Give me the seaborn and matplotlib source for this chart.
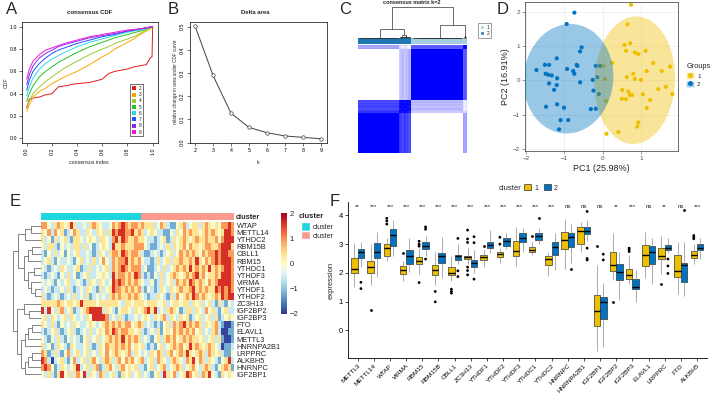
import numpy as np
import pandas as pd
import matplotlib
matplotlib.use('Agg')
import matplotlib.pyplot as plt
import seaborn as sns
from matplotlib.patches import Ellipse, Patch
from matplotlib.lines import Line2D
from matplotlib.colors import LinearSegmentedColormap, ListedColormap

# ---------------- data ----------------
# A: consensus CDF curves (k = 2..9)
cdf_k = [2, 3, 4, 5, 6, 7, 8, 9]
cdf_x = [0.0, 0.02, 0.05, 0.1, 0.15, 0.2, 0.25, 0.3, 0.4, 0.5, 0.6, 0.65, 0.7, 0.8, 0.85, 0.9, 0.95, 0.98, 0.995, 1.0]
cdf_y2 = [0.27, 0.35, 0.36, 0.37, 0.39, 0.40, 0.46, 0.47, 0.49, 0.50, 0.53, 0.58, 0.60, 0.62, 0.64, 0.65, 0.66, 0.72, 0.73, 1.0]
cdf_y3 = [0.24, 0.30, 0.37, 0.42, 0.45, 0.49, 0.52, 0.55, 0.60, 0.66, 0.73, 0.76, 0.80, 0.86, 0.89, 0.93, 0.96, 0.98, 0.995, 1.0]
cdf_y4 = [0.29, 0.33, 0.40, 0.46, 0.51, 0.55, 0.59, 0.63, 0.69, 0.75, 0.80, 0.82, 0.85, 0.89, 0.91, 0.94, 0.97, 0.99, 0.997, 1.0]
cdf_y5 = [0.33, 0.40, 0.47, 0.55, 0.60, 0.64, 0.68, 0.71, 0.77, 0.82, 0.86, 0.88, 0.90, 0.93, 0.945, 0.96, 0.98, 0.99, 0.998, 1.0]
cdf_y6 = [0.38, 0.46, 0.54, 0.62, 0.67, 0.71, 0.74, 0.77, 0.82, 0.86, 0.89, 0.905, 0.92, 0.95, 0.96, 0.97, 0.985, 0.995, 0.999, 1.0]
cdf_y7 = [0.43, 0.52, 0.60, 0.67, 0.72, 0.76, 0.79, 0.81, 0.85, 0.88, 0.91, 0.92, 0.93, 0.96, 0.97, 0.98, 0.99, 0.996, 0.999, 1.0]
cdf_y8 = [0.48, 0.57, 0.65, 0.72, 0.76, 0.79, 0.82, 0.84, 0.87, 0.90, 0.92, 0.93, 0.94, 0.96, 0.97, 0.98, 0.99, 0.997, 0.999, 1.0]
cdf_y9 = [0.53, 0.62, 0.69, 0.75, 0.79, 0.81, 0.83, 0.85, 0.88, 0.91, 0.93, 0.94, 0.95, 0.97, 0.975, 0.98, 0.99, 0.997, 0.999, 1.0]
cdf_colors = ['#E41A1C', '#FFA500', '#9ACD32', '#22C322', '#2ED8E0', '#1E50FF', '#8A2BE2', '#F012D8']

# B: delta area
delta_k = [2, 3, 4, 5, 6, 7, 8, 9]
delta_area = [0.503, 0.29, 0.127, 0.066, 0.043, 0.029, 0.023, 0.017]

# C: consensus matrix k=2 (column order: cluster 2 then cluster 1), per-sample stability
c_labels = [2] * 30 + [2] * 9 + [1] * 38 + [1] * 3
c_stability = [1.0] * 30 + [0.80, 0.76, 0.70, 0.74, 0.78, 0.72, 0.75, 0.68, 0.73] + [1.0] * 38 + [0.62, 0.66, 0.60]

# D: PCA points
pc1_g1 = [0.74, 0.65, 0.57, 0.72, 0.61, 0.84, 0.93, 1.12, 1.32, 1.15, 1.54, 1.76, 0.80, 0.84, 0.63, 1.00, 0.51, 0.67,
          0.71, 0.77, 0.61, 0.50, 1.05, 1.24, 1.45, 1.65, 1.82, 1.15, 0.93, 0.90, 0.41, 0.10, 0.25, 0.02, 0.06, 0.09]
pc2_g1 = [2.20, 1.63, 1.03, 1.08, 0.86, 0.81, 0.76, 0.86, 0.50, 0.27, 0.27, 0.40, 0.19, 0.04, 0.09, 0.01, -0.28, -0.33,
          -0.43, -0.43, -0.55, -0.54, -0.41, -0.57, -0.26, -0.19, -0.40, -0.81, -1.23, -1.35, -1.51, -1.56, 0.51, 0.42, 0.04, -0.60]
pc1_g2 = [-0.74, -0.94, -0.55, -0.59, -1.20, -0.68, -0.66, -1.73, -1.51, -1.40, -0.93, -0.77, -0.74, -1.49, -1.42, -1.33,
          -1.19, -0.59, -1.40, -1.20, -1.27, -1.48, -1.19, -1.01, -1.10, -0.90, -1.14, -0.18, -0.07, -0.26, -0.14, -0.24,
          -0.10, -0.31, -0.18]
pc2_g2 = [1.97, 1.64, 0.96, 0.84, 0.64, 0.45, 0.42, 0.30, 0.45, 0.45, 0.33, 0.27, 0.19, 0.19, 0.16, 0.14, 0.06, -0.06,
          -0.09, -0.14, -0.28, -0.77, -0.70, -0.80, -1.16, -1.16, -1.43, 0.42, 0.42, 0.01, 0.09, -0.30, -0.40, -0.84, -0.83]
group_colors = ['#EFC000', '#0073C2']

# E: heatmap of 22 genes (row order of the dendrogram), 31 + 29 samples
genes_e = ['WTAP', 'METTL14', 'YTHDC2', 'RBM15B', 'CBLL1', 'RBM15', 'YTHDC1', 'YTHDF3', 'VIRMA', 'YTHDF1', 'YTHDF2',
           'ZC3H13', 'IGF2BP2', 'IGF2BP3', 'FTO', 'ELAVL1', 'METTL3', 'HNRNPA2B1', 'LRPPRC', 'ALKBH5', 'HNRNPC', 'IGF2BP1']
e_left = [
    'o o w l y o y w y r y l l w l y o y w l l w o y o r o y o o y',
    'y w o l o w y b l w o y l l y w l y w y l y r o r r o o r y o',
    'y l w b y l w y l b y y w l w y w l y y w l o r y r o y y o y',
    'w l y y l b w l w l y y l y l w b l w y w l r y y o y y y o o',
    'l b w l y l w b w l w y l l w l b l y w l y o o y r o y o o y',
    'l w y l b w l l w l b w y l w l y l w o w l o y o o r y o y o',
    'w l b l w l y w l l w y b l l y l w l w y l o y o r o y o o o',
    'l b l w l b w l y l w b l w y l l w w y w l r y o o y o y r o',
    'w l w l b w l w y l l w l b l y w l y w l w r o r o y o y o y',
    'l w l b l l w l y l b l w l y w l b y l w y r o o y o y o y o',
    'y l b l w l b l w l y l w l y b l w l w l y o y o y y o y o y',
    'y y y y y o y w y y w y r y y y y w y y y y y y w l y y w y y',
    'r l r w l y o l w y b l w y o r r r r l y w l b w y y w l y w',
    'w y l y w l w y l y w l w l y w r r r r o l w l y l b l l w l',
    'y w l y l b w l w l y w l l w y w l w y o y o y o y o o w y o',
    'l b l w y l b l w y l b l w l y l w y w o y r o y o o y y w y',
    'w l b w l y l b w l w l b w y l w y l w y o y o y r y o y o y',
    'y l w b l y w l b y w l l w y l b l y w o y y o y o y o w y w',
    'o y b l y l b w o l w y l w y l w l y w o w y o y w y o l y w',
    'r o l B l w y l b w o l w y l y o w l y o y l y o w o y o w y',
    'o r o w b l y w l w y r l w y l y o b l y o w l y o w y w y l',
    'w l y l b y r w y l y o w r l y w l o y l w y l b y w y l w y',
]
e_right = [
    'o y y y l w o y l b b w y o l w y y l y o y w y w o o r o',
    'y l w y w l l b b w l y w o y o y y w y o y o y w y r r o',
    'y w l l b l w y b l y w y o y w y o y y o y y o w o r r r',
    'o w l b b l w l y l y w y o w o y y w y o o y y o r r r y',
    'l b b l w l b l w y l w o y o y o y w o y o o r o r r o o',
    'w l l b l y l w y l y y o y y o y r y w o y o r o r r r o',
    'l w b b l w l y l w y o y o y r y o y o y r y o y o r r o',
    'l b l b w l y l w y o y w y o y o r y o w y y o y r r r o',
    'w l l w b l y l w y l o y o y r o y o y w o y o r r r r o',
    'l b w l b l y w l y w y o y y o r y o y o y y r o r o r o',
    'w l b l l y w l b y l o w y o y r o y o y w y o y r o r r',
    'y w y y y w w y l w y y w y y l y w y l w y l b y l b w l',
    'y o r y r l w l y o y w b l y y l y w l o w y l b w y l l',
    'w y w l y w y o l y w l y w y b l w y l w y l y b l w y w',
    'y l w l b l b w y l o y o r y o y o y l y w y o l b B B b',
    'l b l w l y b w y w o y o y o y o w y l w l y o l B B b b',
    'l w l b w y l y o y o w y o y o y y w y l w y l y b B B b',
    'y l b l b w y l w y o y o w y r y o y w y o y w l B b b l',
    'l w l y w o y l y o w y o y r y w y o y l o y w y l b b w',
    'o l w y l o y w l y o y w l o y r w o y l y w l b w y r l',
    'l b w y l w y o l w y o y l w y o w l y o y l b w y o y b',
    'l w l b w y l r y w o l w y r o w y l o y r w l b y w y w',
]
e_levels = {'B': -1.9, 'b': -1.2, 'l': -0.55, 'w': -0.1, 'y': 0.35, 'o': 0.9, 'r': 1.6}
e_cluster = [0] * 31 + [1] * 29
# row dendrogram merges (child a, child b, height); leaves are rows of genes_e
e_merges = [(0, 1, 0.35), (22, 2, 0.55), (3, 4, 0.30), (24, 5, 0.45), (6, 7, 0.25), (9, 10, 0.20), (8, 27, 0.35),
            (26, 28, 0.45), (25, 29, 0.58), (23, 30, 0.80), (12, 13, 0.40), (11, 32, 0.60), (14, 15, 0.30),
            (34, 16, 0.45), (35, 17, 0.55), (18, 19, 0.30), (37, 20, 0.45), (38, 21, 0.55), (36, 39, 0.70),
            (33, 40, 0.85), (31, 41, 1.00)]

# F: boxplots, five numbers [low whisker, q1, median, q3, high whisker] per cluster
genes_f = ['METTL3', 'METTL14', 'WTAP', 'VIRMA', 'RBM15', 'RBM15B', 'CBLL1', 'ZC3H13', 'YTHDF1', 'YTHDF2', 'YTHDF3',
           'YTHDC1', 'YTHDC2', 'HNRNPC', 'HNRNPA2B1', 'IGF2BP1', 'IGF2BP2', 'IGF2BP3', 'ELAVL1', 'LRPPRC', 'FTO', 'ALKBH5']
f_box1 = [[1.50, 2.00, 2.15, 2.52, 3.05], [1.58, 1.98, 2.20, 2.43, 3.00], [2.43, 2.58, 2.88, 3.00, 3.22],
          [1.70, 1.97, 2.10, 2.24, 2.43], [1.97, 2.30, 2.43, 2.55, 2.86], [1.58, 1.93, 2.10, 2.26, 2.72],
          [1.73, 1.93, 2.00, 2.22, 2.60], [2.30, 2.48, 2.55, 2.60, 2.85], [2.22, 2.45, 2.55, 2.62, 2.80],
          [2.36, 2.54, 2.65, 2.73, 2.86], [2.24, 2.57, 2.77, 3.11, 3.59], [2.62, 2.73, 2.80, 2.89, 3.09],
          [1.89, 2.26, 2.48, 2.59, 2.70], [2.12, 2.82, 3.15, 3.41, 3.87], [2.73, 3.00, 3.46, 3.61, 3.78],
          [-0.74, 0.14, 0.66, 1.23, 2.28], [1.76, 2.07, 2.27, 2.72, 3.38], [1.60, 1.79, 1.93, 2.13, 2.62],
          [1.81, 2.23, 2.63, 2.98, 3.42], [1.95, 2.49, 2.59, 2.88, 3.27], [1.27, 1.86, 2.05, 2.63, 3.09],
          [2.30, 2.50, 2.63, 2.77, 3.00]]
f_box2 = [[2.22, 2.51, 2.74, 2.84, 3.09], [1.84, 2.51, 2.72, 3.03, 3.44], [2.57, 2.94, 3.33, 3.52, 3.85],
          [2.04, 2.30, 2.57, 2.79, 3.20], [2.59, 2.83, 2.95, 3.09, 3.27], [1.81, 2.33, 2.60, 2.69, 3.24],
          [2.30, 2.45, 2.57, 2.63, 3.00], [1.98, 2.22, 2.33, 2.45, 2.80], [2.68, 2.85, 2.97, 3.07, 3.49],
          [2.82, 2.95, 3.11, 3.20, 3.40], [2.71, 3.07, 3.23, 3.38, 3.58], [3.00, 3.14, 3.29, 3.40, 3.55],
          [2.10, 2.62, 2.89, 3.09, 3.40], [2.36, 2.89, 3.26, 3.38, 3.69], [3.12, 3.34, 3.47, 3.59, 3.85],
          [-0.57, 0.40, 0.99, 1.15, 1.64], [1.06, 1.76, 2.02, 2.30, 2.72], [0.98, 1.43, 1.50, 1.78, 2.10],
          [1.60, 2.31, 2.72, 2.92, 3.23], [2.69, 2.79, 2.88, 2.98, 3.23], [1.20, 1.67, 2.28, 2.36, 3.06],
          [2.48, 2.78, 2.88, 3.00, 3.23]]
f_out1 = [[], [0.71], [3.90, 3.81, 3.70], [2.69], [3.10, 3.00, 2.93, 1.66], [1.35, 0.99], [1.43, 1.35, 1.29],
          [3.49, 3.18, 3.06, 2.20, 2.08, 1.93], [2.94], [3.24, 3.00], [], [3.29], [], [], [], [2.95], [1.00],
          [2.86, 2.80, 2.74], [], [1.60], [], [3.30, 3.24, 3.19]]
f_out2 = [[1.67, 1.45], [], [], [], [3.60, 3.52, 2.48], [], [3.20, 2.07, 1.87], [3.26, 3.05, 1.78], [], [], [],
          [3.90], [], [2.12], [4.14, 2.86, 2.50, 2.45], [2.65, 2.45], [], [], [], [2.48, 2.24, 1.98], [4.20], []]
f_sig = ['**', '***', '***', '***', '***', '***', '***', '***', '***', '***', '***', '***', '***', 'ns', 'ns', 'ns',
         '**', '***', 'ns', '**', 'ns', '***']

# ---------------- figure ----------------
W, H = 710, 395
sns.set_style('white')
plt.rcParams['font.family'] = ['Liberation Sans', 'DejaVu Sans']
plt.rcParams['axes.linewidth'] = 0.5
fig = plt.figure(figsize=(W / 100, H / 100), dpi=100)


def px_axes(x0, y0, x1, y1):
    return fig.add_axes([x0 / W, 1 - y1 / H, (x1 - x0) / W, (y1 - y0) / H])


def fig_text(x, y, s, **kw):
    kw.setdefault('ha', 'left')
    kw.setdefault('va', 'center')
    fig.text(x / W, 1 - y / H, s, **kw)


def draw_dendro(ax, merges, n, orient, color, lw):
    pos = {i: i + 0.5 for i in range(n)}
    hgt = {i: 0.0 for i in range(n)}
    for k, (a, b, h) in enumerate(merges):
        p = [pos[a], pos[a], pos[b], pos[b]]
        q = [hgt[a], h, h, hgt[b]]
        if orient == 'top':
            ax.plot(p, q, color=color, lw=lw, solid_capstyle='butt', clip_on=False)
        else:
            ax.plot(q, p, color=color, lw=lw, solid_capstyle='butt', clip_on=False)
        pos[n + k] = (pos[a] + pos[b]) / 2
        hgt[n + k] = h


def average_linkage(dist):
    # average linkage; ties are broken towards the smallest clusters (balanced tree)
    n = len(dist)
    size = np.ones(2 * n - 1)
    d = np.full((2 * n - 1, 2 * n - 1), np.inf)
    d[:n, :n] = dist
    np.fill_diagonal(d, np.inf)
    active = list(range(n))
    merges = []
    for step in range(n - 1):
        sz = size[active]
        key = d[np.ix_(active, active)] + 1e-6 * (sz[:, None] + sz[None, :])
        i, j = np.unravel_index(np.argmin(key), key.shape)
        a, b = active[i], active[j]
        if a > b:
            a, b = b, a
        new = n + step
        size[new] = size[a] + size[b]
        for c in active:
            if c not in (a, b):
                d[new, c] = d[c, new] = (size[a] * d[a, c] + size[b] * d[b, c]) / size[new]
        merges.append((a, b, d[a, b]))
        active = [c for c in active if c not in (a, b)] + [new]
    return merges


def cov_trob(pts, nu=5, iters=100):
    # robust (multivariate t) location and scatter, like MASS::cov.trob
    m = pts.mean(axis=0)
    S = np.cov(pts.T)
    for _ in range(iters):
        r = pts - m
        q = np.einsum('ij,jk,ik->i', r, np.linalg.inv(S), r)
        w = (nu + 2) / (nu + q)
        m = (w[:, None] * pts).sum(axis=0) / w.sum()
        r = pts - m
        S = (w[:, None] * r).T @ r / len(pts)
    return m, S


def base_r_axes(ax):
    for s in ax.spines.values():
        s.set_visible(True)
        s.set_color('black')
        s.set_linewidth(0.5)
    ax.tick_params(length=2, width=0.4, labelsize=3.8, pad=1.5, colors='black', direction='out')
    ax.tick_params(axis='both', which='both', bottom=True, left=True)


# ---- A: consensus CDF
axA = px_axes(21.7, 22.2, 157.7, 142.8)
cdf_all = [cdf_y2, cdf_y3, cdf_y4, cdf_y5, cdf_y6, cdf_y7, cdf_y8, cdf_y9]
cdf_df = pd.DataFrame({'x': np.tile(cdf_x, len(cdf_k)),
                       'y': np.concatenate(cdf_all),
                       'k': np.repeat([str(k) for k in cdf_k], len(cdf_x))})
sns.lineplot(data=cdf_df, x='x', y='y', hue='k', palette=cdf_colors, linewidth=0.7,
             estimator=None, sort=False, legend=False, ax=axA)
axA.set_xlim(-0.04, 1.04)
axA.set_ylim(-0.04, 1.04)
axA.set_xticks([0, 0.2, 0.4, 0.6, 0.8, 1.0])
axA.set_yticks([0, 0.2, 0.4, 0.6, 0.8, 1.0])
axA.set_xticklabels(['0.0', '0.2', '0.4', '0.6', '0.8', '1.0'], rotation=90)
axA.set_yticklabels(['0.0', '0.2', '0.4', '0.6', '0.8', '1.0'])
axA.set_xlabel('')
axA.set_ylabel('')
base_r_axes(axA)
axA.legend([Patch(facecolor=c, edgecolor='none') for c in cdf_colors], [str(k) for k in cdf_k],
           loc='upper left', bbox_to_anchor=(0.78, 0.505), fontsize=3.5, handlelength=0.8, handleheight=0.9,
           labelspacing=0.25, borderpad=0.35, handletextpad=0.6, frameon=True, fancybox=False,
           edgecolor='black', framealpha=1).get_frame().set_linewidth(0.4)
fig_text(90, 13, 'consensus CDF', ha='center', fontsize=4.3, fontweight='bold')
fig_text(89, 162, 'consensus index', ha='center', fontsize=3.8)
fig_text(6, 83, 'CDF', ha='center', fontsize=3.8, rotation=90)
fig_text(6, 9, 'A', fontsize=12)

# ---- B: delta area
axB = px_axes(190, 21.7, 326.7, 143.3)
sns.lineplot(x=delta_k, y=delta_area, color='#404040', linewidth=0.7, marker='o', markersize=2.5,
             markerfacecolor='white', markeredgecolor='#404040', markeredgewidth=0.5, ax=axB)
axB.set_xlim(1.72, 9.32)
axB.set_ylim(-0.0026, 0.5215)
axB.set_xticks(delta_k)
axB.set_yticks([0.0, 0.1, 0.2, 0.3, 0.4, 0.5])
axB.set_yticklabels(['0.0', '0.1', '0.2', '0.3', '0.4', '0.5'], rotation=90, va='center')
base_r_axes(axB)
fig_text(255, 13, 'Delta area', ha='center', fontsize=4.3, fontweight='bold')
fig_text(258, 162, 'k', ha='center', fontsize=3.8)
fig_text(176, 82, 'relative change in area under CDF curve', ha='center', fontsize=3.3, rotation=90)
fig_text(168, 9, 'B', fontsize=12)

# ---- C: consensus matrix (unstable samples switch cluster together)
lab = np.array(c_labels)
stab = np.array(c_stability)
same = lab[:, None] == lab[None, :]
gap = np.abs(stab[:, None] - stab[None, :])
cons = np.where(same, 1 - gap, gap)
n_c = len(lab)
axC = px_axes(358, 45, 467, 153)
sns.heatmap(cons[::-1], cmap=LinearSegmentedColormap.from_list('wb', ['white', 'blue']), vmin=0, vmax=1,
            cbar=False, xticklabels=False, yticklabels=False, ax=axC)
axCa = px_axes(358, 38, 467, 43.5)
sns.heatmap(lab[None, :], cmap=ListedColormap(['#A6CEE3', '#1F78B4']), vmin=0.5, vmax=2.5, cbar=False,
            xticklabels=False, yticklabels=False, ax=axCa)
axCd = px_axes(358, 6.5, 467, 37.5)
c_merges = average_linkage(1 - cons)
draw_dendro(axCd, c_merges, n_c, 'top', '#333333', 0.5)
axCd.set_xlim(0, n_c)
axCd.set_ylim(0, max(m[2] for m in c_merges))
axCd.axis('off')
fig_text(412, 2.6, 'consensus matrix k=2', ha='center', fontsize=4.0, fontweight='bold')
legC = fig.legend([Patch(facecolor='#A6CEE3'), Patch(facecolor='#1F78B4')], ['1', '2'], loc='upper left',
                  bbox_to_anchor=(476 / W, 1 - 21 / H), fontsize=3.5, handlelength=0.8, handleheight=0.9,
                  labelspacing=0.2, borderpad=0.35, handletextpad=0.5, frameon=True, fancybox=False,
                  edgecolor='#555555', framealpha=1)
legC.get_frame().set_linewidth(0.4)
fig_text(339, 9, 'C', fontsize=12)

# ---- D: PCA
axD = px_axes(525, 2, 677.7, 151)
pca_df = pd.DataFrame({'PC1': pc1_g1 + pc1_g2, 'PC2': pc2_g1 + pc2_g2,
                       'Groups': ['1'] * len(pc1_g1) + ['2'] * len(pc1_g2)})
sns.scatterplot(data=pca_df, x='PC1', y='PC2', hue='Groups', palette=group_colors, s=9, linewidth=0,
                legend=False, ax=axD, zorder=2)
for xs, ys, col in [(pc1_g1, pc2_g1, group_colors[0]), (pc1_g2, pc2_g2, group_colors[1])]:
    pts = np.column_stack([xs, ys])
    center, cov = cov_trob(pts)
    vals, vecs = np.linalg.eigh(cov)
    order = vals.argsort()[::-1]
    vals, vecs = vals[order], vecs[:, order]
    ang = np.degrees(np.arctan2(vecs[1, 0], vecs[0, 0]))
    radius = np.sqrt(2 * 3.27)  # 95% level, F(2, n-1)
    wd, ht = 2 * radius * np.sqrt(vals)
    axD.add_patch(Ellipse(center, wd, ht, angle=ang, facecolor=col, alpha=0.4,
                          edgecolor='none', zorder=3))
axD.set_xlim(-2.03, 1.96)
axD.set_ylim(-2.06, 2.28)
axD.set_xticks([-2, -1, 0, 1])
axD.set_yticks([-2, -1, 0, 1, 2])
axD.grid(True, color='#EBEBEB', lw=0.5)
axD.set_axisbelow(True)
for s in axD.spines.values():
    s.set_visible(True)
    s.set_color('#333333')
    s.set_linewidth(0.5)
axD.tick_params(length=2, width=0.4, labelsize=4.5, pad=1.5, colors='#4D4D4D', bottom=True, left=True)
axD.set_xlabel('PC1 (25.98%)', fontsize=6.5, labelpad=2)
axD.set_ylabel('PC2 (16.91%)', fontsize=6.5, labelpad=2)
legD = fig.legend([(Patch(facecolor=c, alpha=0.4), Line2D([], [], marker='o', color=c, ls='', ms=2.5))
                   for c in group_colors], ['1', '2'], title='Groups', loc='upper left',
                  bbox_to_anchor=(682 / W, 1 - 59 / H), fontsize=4.5, title_fontsize=5.3, frameon=False,
                  handlelength=1.2, handleheight=1.2, labelspacing=0.3, handletextpad=0.5, alignment='left',
                  borderpad=0.2)
fig_text(497, 9, 'D', fontsize=12)

# ---- E: heatmap
e_mat = np.array([[e_levels[c] for c in (l + ' ' + r).split()] for l, r in zip(e_left, e_right)])
axE = px_axes(41, 222, 234, 378)
axEcb = px_axes(281, 213, 287, 314)
sns.heatmap(e_mat, cmap='RdYlBu_r', vmin=-2, vmax=2, ax=axE, cbar_ax=axEcb, xticklabels=False,
            yticklabels=genes_e, cbar_kws={'ticks': [-2, -1, 0, 1, 2]})
axE.yaxis.tick_right()
axE.set_yticklabels(genes_e, rotation=0, fontsize=5.3)
axE.tick_params(axis='y', length=0, pad=2)
cb = axE.collections[0].colorbar
cb.outline.set_visible(False)
cb.ax.tick_params(length=0, labelsize=5.5, pad=2)
axEa = px_axes(41, 213, 234, 220)
sns.heatmap(np.array(e_cluster)[None, :], cmap=ListedColormap(['#1ED6DE', '#FC9A8E']), vmin=0, vmax=1,
            cbar=False, xticklabels=False, yticklabels=False, ax=axEa)
fig_text(236, 217, 'cluster', fontsize=5.3, fontweight='bold')
axEd = px_axes(12, 222, 40.5, 378)
draw_dendro(axEd, e_merges, len(genes_e), 'left', '#555555', 0.5)
axEd.set_xlim(1.02, 0)
axEd.set_ylim(len(genes_e), 0)
axEd.axis('off')
fig_text(299, 216, 'cluster', fontsize=5.5, fontweight='bold')
fig.legend([Patch(facecolor='#1ED6DE'), Patch(facecolor='#FC9A8E')], ['cluster', 'cluster'], loc='upper left',
           bbox_to_anchor=(296 / W, 1 - 217.5 / H), fontsize=5, frameon=False, handlelength=1.3, handleheight=1.45,
           labelspacing=0.05, handletextpad=0.4, borderpad=0.2)
fig_text(10, 202, 'E', fontsize=12)

# ---- F: boxplots
rows = []
for i, g in enumerate(genes_f):
    rows += [(g, '1', v) for v in f_box1[i]]
    rows += [(g, '2', v) for v in f_box2[i]]
box_df = pd.DataFrame(rows, columns=['gene', 'cluster', 'expression'])
out_rows = []
for i, g in enumerate(genes_f):
    out_rows += [(g, '1', v) for v in f_out1[i]]
    out_rows += [(g, '2', v) for v in f_out2[i]]
out_df = pd.DataFrame(out_rows, columns=['gene', 'cluster', 'expression'])

axF = px_axes(348, 202, 706.7, 358.3)
sns.boxplot(data=box_df, x='gene', y='expression', hue='cluster', order=genes_f, hue_order=['1', '2'],
            palette=group_colors, saturation=1, width=0.8, gap=0, whis=np.inf, showfliers=False,
            showcaps=False, linewidth=0.5, linecolor='#333333', legend=False, ax=axF,
            medianprops=dict(color='black', linewidth=1.0), whiskerprops=dict(color='#8C8C8C'))
sns.stripplot(data=out_df, x='gene', y='expression', hue='cluster', order=genes_f, hue_order=['1', '2'],
              palette=['black', 'black'], dodge=True, jitter=False, size=2.0, legend=False, ax=axF)
for i, s in enumerate(f_sig):
    axF.text(i, 4.3, s, ha='center', va='center', fontsize=4.5)
axF.set_xlim(-0.6, 21.6)
axF.set_ylim(-0.98, 4.47)
axF.set_yticks([0, 1, 2, 3, 4])
axF.set_xticks(range(len(genes_f)))
axF.set_xticklabels(genes_f, rotation=45, ha='right', rotation_mode='anchor', fontsize=4.6)
axF.tick_params(axis='y', labelsize=5.5)
axF.tick_params(length=2, width=0.5, pad=1.5, bottom=True, left=True, colors='black')
sns.despine(ax=axF)
for s in ['left', 'bottom']:
    axF.spines[s].set_color('black')
    axF.spines[s].set_linewidth(0.6)
axF.set_xlabel('')
axF.set_ylabel('expression', fontsize=5.5, labelpad=3)
fig_text(499, 188, 'cluster', fontsize=5.5)
fig.legend([Patch(facecolor=group_colors[0], edgecolor='#333333', lw=0.5),
            Patch(facecolor=group_colors[1], edgecolor='#333333', lw=0.5)], ['1', '2'], ncol=2,
           loc='center left', bbox_to_anchor=(521 / W, 1 - 188 / H), fontsize=5, frameon=False,
           handlelength=1.0, handleheight=1.0, columnspacing=0.8, handletextpad=0.4, borderpad=0)
fig_text(330, 201, 'F', fontsize=12)

fig.savefig('out.png', dpi=100)
